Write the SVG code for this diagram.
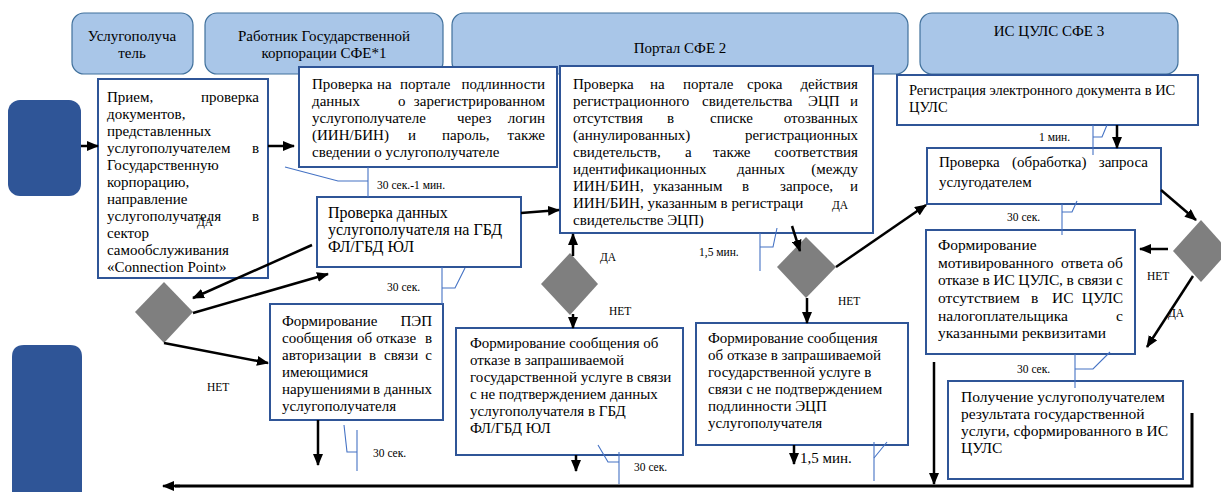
<svg xmlns="http://www.w3.org/2000/svg" width="1221" height="492" viewBox="0 0 1221 492" font-family="Liberation Serif, DejaVu Serif, serif">
<style>
text{font-family:'Liberation Serif','DejaVu Serif',serif;font-size:15px;fill:#000}
.c{text-anchor:middle}
.e{text-anchor:end}
.s{font-size:11.5px}
.m{font-size:16px}
.j{font-size:15.5px}
.h{font-size:14.5px}
.lane{fill:#a9c6e8;stroke:#41719c;stroke-width:1.2}
.dark{fill:#2f5597}
.box{fill:#fff;stroke:#2f5597;stroke-width:2}
.dia{fill:#7f7f7f}
.ar{stroke:#000;stroke-width:2.5;fill:none;marker-end:url(#ah)}
.ln{stroke:#000;stroke-width:3;fill:none}
.cl{stroke:#4472c4;stroke-width:1.1;fill:none}
</style>
<defs>
<marker id="ah" markerUnits="userSpaceOnUse" markerWidth="12" markerHeight="10" refX="11" refY="5" orient="auto">
<path d="M0,0 L12,5 L0,10 z" fill="#000"/>
</marker>
</defs>

<g id="lane1"><rect class="lane" x="72" y="13" width="121" height="61" rx="12"/><text class="c" x="132" y="41">Услугополуча</text><text class="c" x="132" y="58">тель</text></g>
<g id="lane2"><rect class="lane" x="205" y="13" width="238" height="61" rx="12"/><text class="c" x="324" y="41">Работник Государственной</text><text class="c" x="324" y="58">корпорации СФЕ*1</text></g>
<g id="lane3"><rect class="lane" x="452" y="13" width="456" height="61" rx="12"/><text class="c" x="680" y="53">Портал СФЕ 2</text></g>
<g id="lane4"><rect class="lane" x="920" y="13" width="258" height="61" rx="12"/><text class="c" x="1049" y="36">ИС ЦУЛС СФЕ 3</text></g>

<g id="start"><rect class="dark" x="8" y="100" width="73" height="96" rx="12"/></g>
<g id="end"><path class="dark" d="M12,492 L12,357 Q12,345 24,345 L70,345 Q82,345 82,357 L82,492 z"/></g>

<g id="boxA"><rect class="box" x="98" y="79" width="170" height="199"/>
<text x="107" y="102">Прием,</text><text class="e" x="259" y="102">проверка</text>
<text x="107" y="119">документов,</text>
<text x="107" y="136">представленных</text>
<text x="107" y="153">услугополучателем</text><text class="e" x="259" y="153">в</text>
<text x="107" y="170">Государственную</text>
<text x="107" y="187">корпорацию,</text>
<text x="107" y="204">направление</text>
<text x="107" y="221">услугополучателя</text><text class="e" x="259" y="221">в</text>
<text x="107" y="238">сектор</text>
<text x="107" y="255">самообслуживания</text>
<text x="107" y="272">«Connection Point»</text>
</g>

<g id="boxB"><rect class="box" x="299" y="67" width="258" height="100"/>
<text x="312" y="89">Проверка</text><text x="377" y="89">на</text><text x="400" y="89">портале</text><text class="e" x="545" y="89">подлинности</text>
<text x="312" y="106">данных</text><text x="398" y="106">о</text><text class="e" x="545" y="106">зарегистрированном</text>
<text x="312" y="123">услугополучателе</text><text x="457" y="123">через</text><text class="e" x="545" y="123">логин</text>
<text x="312" y="140">(ИИН/БИН)</text><text x="408" y="140">и</text><text x="442" y="140">пароль,</text><text class="e" x="545" y="140">также</text>
<text x="312" y="157">сведении о услугополучателе</text>
</g>

<g id="boxC"><rect class="box" x="560" y="66" width="313" height="167"/>
<text x="573" y="89">Проверка</text><text x="650" y="89">на</text><text x="683" y="89">портале</text><text x="747" y="89">срока</text><text class="e" x="858" y="89">действия</text>
<text x="573" y="106">регистрационного</text><text x="702" y="106">свидетельства</text><text x="808" y="106">ЭЦП</text><text class="e" x="858" y="106">и</text>
<text x="573" y="123">отсутствия</text><text x="667" y="123">в</text><text x="710" y="123">списке</text><text class="e" x="858" y="123">отозванных</text>
<text x="573" y="140">(аннулированных)</text><text class="e" x="858" y="140">регистрационных</text>
<text x="573" y="157">свидетельств,</text><text x="685" y="157">а</text><text x="713" y="157">также</text><text class="e" x="858" y="157">соответствия</text>
<text x="573" y="174">идентификационных</text><text x="737" y="174">данных</text><text class="e" x="858" y="174">(между</text>
<text x="573" y="191">ИИН/БИН,</text><text x="653" y="191">указанным</text><text x="742" y="191">в</text><text x="780" y="191">запросе,</text><text class="e" x="858" y="191">и</text>
<text x="573" y="208">ИИН/БИН, указанным в регистраци</text>
<text x="573" y="225">свидетельстве ЭЦП)</text>
</g>

<g id="boxD"><rect class="box" x="317" y="197" width="204" height="70"/>
<text class="m" x="328" y="218">Проверка данных</text>
<text class="m" x="328" y="235">услугополучателя на ГБД</text>
<text class="m" x="328" y="252">ФЛ/ГБД ЮЛ</text>
</g>

<g id="boxE"><rect class="box" x="270" y="304" width="173" height="116"/>
<text x="282" y="326">Формирование</text><text class="e" x="432" y="326">ПЭП</text>
<text x="282" y="343">сообщения</text><text x="357" y="343">об</text><text x="376" y="343">отказе</text><text class="e" x="432" y="343">в</text>
<text x="282" y="360">авторизации</text><text x="369" y="360">в</text><text x="384" y="360">связи</text><text class="e" x="432" y="360">с</text>
<text x="282" y="377">имеющимися</text>
<text x="282" y="394">нарушениями</text><text x="373" y="394">в</text><text class="e" x="432" y="394">данных</text>
<text x="282" y="411">услугополучателя</text>
</g>

<g id="boxF"><rect class="box" x="456" y="328" width="227" height="127"/>
<text x="470" y="348">Формирование сообщения об</text>
<text x="470" y="365">отказе в запрашиваемой</text>
<text x="470" y="382">государственной услуге в связи</text>
<text x="470" y="399">с не подтверждением данных</text>
<text x="470" y="416">услугополучателя в ГБД</text>
<text x="470" y="433">ФЛ/ГБД ЮЛ</text>
</g>

<g id="boxG"><rect class="box" x="696" y="323" width="212" height="122"/>
<text x="708" y="343">Формирование сообщения</text>
<text x="708" y="360">об отказе в запрашиваемой</text>
<text x="708" y="377">государственной услуге в</text>
<text x="708" y="394">связи с не подтверждением</text>
<text x="708" y="411">подлинности ЭЦП</text>
<text x="708" y="428">услугополучателя</text>
</g>

<g id="boxH"><rect class="box" x="897" y="75" width="301" height="50"/>
<text class="h" x="909" y="95">Регистрация электронного документа в ИС</text>
<text class="h" x="909" y="112">ЦУЛС</text>
</g>

<g id="boxI"><rect class="box" x="927" y="148" width="234" height="56"/>
<text x="939" y="167">Проверка</text><text x="1012" y="167">(обработка)</text><text class="e" x="1148" y="167">запроса</text>
<text x="939" y="187">услугодателем</text>
</g>

<g id="boxJ"><rect class="box" x="926" y="230" width="209" height="124"/>
<text class="j" x="938" y="250">Формирование</text>
<text class="j" x="938" y="268">мотивированного</text><text class="j" x="1061" y="268">ответа</text><text class="j e" x="1123" y="268">об</text>
<text class="j" x="938" y="285" textLength="185" lengthAdjust="spacing">отказе в ИС ЦУЛС, в связи с</text>
<text class="j" x="938" y="303">отсутствием</text><text class="j" x="1031" y="303">в</text><text class="j" x="1052" y="303">ИС</text><text class="j e" x="1123" y="303">ЦУЛС</text>
<text class="j" x="938" y="321">налогоплательщика</text><text class="j e" x="1123" y="321">с</text>
<text class="j" x="938" y="338">указанными реквизитами</text>
</g>

<g id="boxK"><rect class="box" x="948" y="381" width="235" height="98"/>
<text class="j" x="961" y="402">Получение услугополучателем</text>
<text class="j" x="961" y="419">результата государственной</text>
<text class="j" x="961" y="436">услуги, сформированного в ИС</text>
<text class="j" x="961" y="453">ЦУЛС</text>
</g>

<g id="d1"><polygon class="dia" points="164,282 193,312 164,343 135,312"/></g>
<g id="d2"><polygon class="dia" points="570,253 598,284 570,315 541,284"/></g>
<g id="d3"><polygon class="dia" points="806,237 836,267 806,298 777,267"/></g>
<g id="d4"><polygon class="dia" points="1201,220 1229,251 1201,282 1173,251"/></g>

<g id="connectors">
<line class="ar" x1="81" y1="146" x2="98" y2="146"/>
<line class="ar" x1="268" y1="146" x2="294" y2="146"/>
<line class="ar" x1="312" y1="245" x2="193" y2="298"/>
<line class="ar" x1="193" y1="313" x2="328" y2="274"/>
<line class="ar" x1="164" y1="343" x2="268" y2="363"/>
<line class="ar" x1="521" y1="213" x2="559" y2="210"/>
<line class="ar" x1="573" y1="256" x2="573" y2="234"/>
<line class="ar" x1="573" y1="314" x2="573" y2="328"/>
<line class="ar" x1="792" y1="226" x2="800" y2="251"/>
<line class="ar" x1="807" y1="298" x2="807" y2="323"/>
<line class="ar" x1="836" y1="267" x2="926" y2="205"/>
<line class="ar" x1="1161" y1="190" x2="1196" y2="220"/>
<line class="ar" x1="1168" y1="249" x2="1140" y2="249"/>
<line class="ar" x1="1193" y1="276" x2="1147" y2="347"/>
<line class="ar" x1="1117" y1="125" x2="1117" y2="148"/>
<line class="ar" x1="934" y1="362" x2="934" y2="484"/>
<line class="ar" x1="318" y1="420" x2="318" y2="465"/>
<line class="ar" x1="576" y1="455" x2="576" y2="471"/>
<line class="ar" x1="794" y1="445" x2="794" y2="464"/>
<polyline class="ln" points="1192,413 1192,486 175,486"/>
<line class="ar" x1="180" y1="486" x2="163" y2="486"/>

<polyline class="cl" points="285,167 338,181 368,181"/>
<line class="cl" x1="368" y1="167" x2="368" y2="197"/>
<line class="cl" x1="442" y1="267" x2="442" y2="304"/>
<polyline class="cl" points="442,288 455,288 465,268"/>
<line class="cl" x1="357" y1="430" x2="357" y2="471"/>
<polyline class="cl" points="344,425 347,452 357,452"/>
<line class="cl" x1="619" y1="452" x2="619" y2="484"/>
<polyline class="cl" points="598,445 608,462 619,462"/>
<line class="cl" x1="874" y1="442" x2="874" y2="481"/>
<line class="cl" x1="874" y1="458" x2="887" y2="442"/>
<line class="cl" x1="760" y1="233" x2="760" y2="271"/>
<polyline class="cl" points="760,247 773,247 777,228"/>
<line class="cl" x1="1093" y1="125" x2="1093" y2="155"/>
<polyline class="cl" points="1093,137 1102,137 1107,125"/>
<line class="cl" x1="1062" y1="204" x2="1062" y2="235"/>
<polyline class="cl" points="1062,212 1072,212 1077,201"/>
<line class="cl" x1="1075" y1="354" x2="1075" y2="388"/>
<polyline class="cl" points="1075,369 1093,369 1110,352"/>
</g>

<g id="labels">
<text class="s" x="197" y="226">ДА</text>
<text class="s" x="207" y="391">НЕТ</text>
<text class="s" x="600" y="261">ДА</text>
<text class="s" x="609" y="315">НЕТ</text>
<text class="s" x="832" y="209">ДА</text>
<text class="s" x="838" y="305">НЕТ</text>
<text class="s" x="1147" y="280">НЕТ</text>
<text class="s" x="1168" y="317">ДА</text>
<text class="s" x="377" y="189">30 сек.-1 мин.</text>
<text class="s" x="387" y="291">30 сек.</text>
<text class="s" x="373" y="457">30 сек.</text>
<text class="s" x="634" y="471">30 сек.</text>
<text class="s" x="699" y="256">1,5 мин.</text>
<text x="800" y="463">1,5 мин.</text>
<text class="s" x="1039" y="141">1 мин.</text>
<text class="s" x="1007" y="221">30 сек.</text>
<text class="s" x="1017" y="373">30 сек.</text>
</g>
</svg>
